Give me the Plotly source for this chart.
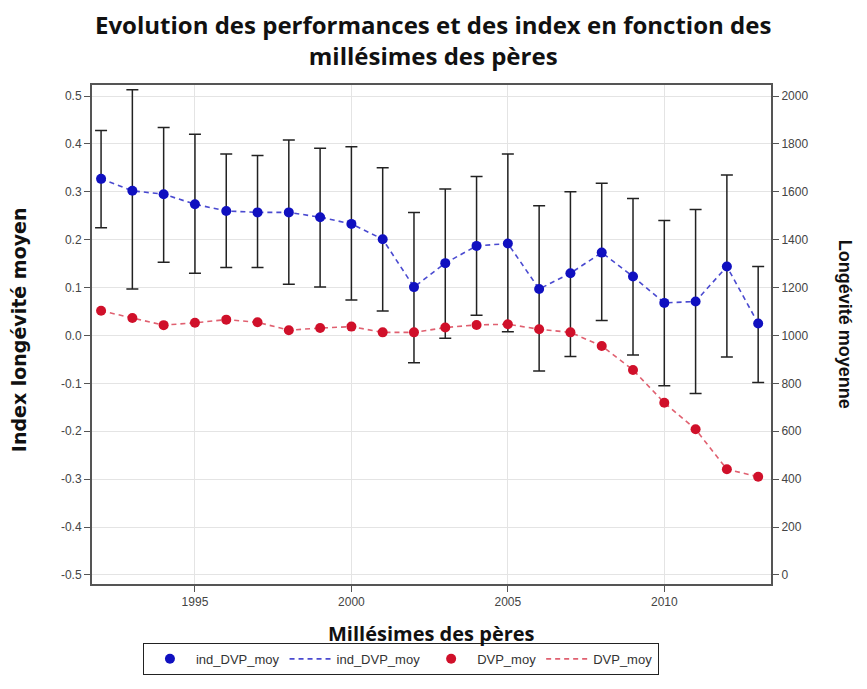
import plotly.graph_objects as go

years = list(range(1992, 2014))
ind_dvp_moy = [0.327, 0.302, 0.295, 0.274, 0.260, 0.257, 0.257, 0.247, 0.233, 0.201, 0.101,
               0.151, 0.187, 0.192, 0.097, 0.130, 0.173, 0.123, 0.068, 0.071, 0.144, 0.025]
ind_upper = [0.428, 0.513, 0.434, 0.420, 0.379, 0.376, 0.408, 0.391, 0.394, 0.350, 0.257,
             0.306, 0.332, 0.379, 0.271, 0.300, 0.318, 0.286, 0.240, 0.263, 0.335, 0.144]
ind_lower = [0.225, 0.097, 0.153, 0.130, 0.142, 0.142, 0.107, 0.101, 0.074, 0.051, -0.057,
             -0.006, 0.042, 0.008, -0.074, -0.044, 0.031, -0.041, -0.105, -0.121, -0.045, -0.098]
dvp_moy = [1103, 1073, 1043, 1053, 1066, 1055, 1022, 1031, 1037, 1013, 1013,
           1033, 1044, 1047, 1026, 1013, 956, 856, 719, 608, 441, 410]

left_ticks = [0.5, 0.4, 0.3, 0.2, 0.1, 0.0, -0.1, -0.2, -0.3, -0.4, -0.5]
left_labels = ["0.5", "0.4", "0.3", "0.2", "0.1", "0.0", "-0.1", "-0.2", "-0.3", "-0.4", "-0.5"]
right_ticks = [0, 200, 400, 600, 800, 1000, 1200, 1400, 1600, 1800, 2000]
x_ticks = [1995, 2000, 2005, 2010]

BLUE = "#1010c0"
RED = "#d0102a"
tickfont = dict(family="Liberation Sans, Arial, sans-serif", size=12, color="#444")
TITLE_FONT = "Open Sans, sans-serif"

err_plus = [u - v for u, v in zip(ind_upper, ind_dvp_moy)]
err_minus = [v - l for v, l in zip(ind_dvp_moy, ind_lower)]

fig = go.Figure()
fig.add_trace(go.Scatter(x=years, y=ind_dvp_moy, mode="lines", name="ind_DVP_moy",
                         line=dict(color="#4a4ad0", width=1.6, dash="5px,4px"), legendrank=2))
fig.add_trace(go.Scatter(x=years, y=dvp_moy, mode="lines", name="DVP_moy", yaxis="y2",
                         line=dict(color="#e06070", width=1.6, dash="5px,4px"), legendrank=4))
fig.add_trace(go.Scatter(x=years, y=ind_dvp_moy, mode="markers", name="ind_DVP_moy",
                         marker=dict(color=BLUE, size=10),
                         error_y=dict(type="data", array=err_plus, arrayminus=err_minus,
                                      color="#222", thickness=1.5, width=6),
                         legendrank=1))
fig.add_trace(go.Scatter(x=years, y=dvp_moy, mode="markers", name="DVP_moy", yaxis="y2",
                         marker=dict(color=RED, size=10), legendrank=3))

fig.update_layout(
    width=859, height=681,
    margin=dict(l=84, r=96, t=77, b=105),
    paper_bgcolor="white", plot_bgcolor="white",
    xaxis=dict(range=[1991.71, 2013.41], tickvals=x_ticks, ticks="outside", ticklen=6,
               tickcolor="#555", showline=True, linecolor="#555", linewidth=2, mirror=True,
               showgrid=True, gridcolor="#e4e4e4", gridwidth=1, tickfont=tickfont, zeroline=False),
    yaxis=dict(range=[-0.519, 0.523], tickvals=left_ticks, ticktext=left_labels, ticks="outside",
               ticklen=6, tickcolor="#555", showline=True, linecolor="#555", linewidth=2,
               showgrid=True, gridcolor="#e4e4e4", gridwidth=1, tickfont=tickfont, zeroline=False),
    yaxis2=dict(range=[-38, 2046], tickvals=right_ticks, overlaying="y", side="right",
                ticks="outside", ticklen=6, tickcolor="#555", showline=True, linecolor="#555",
                linewidth=2, showgrid=False, tickfont=tickfont, zeroline=False),
    showlegend=True,
    legend=dict(orientation="h", x=0.455, xanchor="center", y=-0.118, yanchor="top",
                bordercolor="#222", borderwidth=1, bgcolor="white",
                font=dict(family="Liberation Sans, Arial, sans-serif", size=13, color="#333"),
                traceorder="normal", itemwidth=42),
    annotations=[
        dict(text="<b>Evolution des performances et des index en fonction des<br>millésimes des pères</b>",
             xref="paper", yref="paper", x=0.502, y=1.158, xanchor="center", yanchor="top",
             showarrow=False, font=dict(family=TITLE_FONT, size=24, color="#111")),
        dict(text="<b>Index longévité moyen</b>", xref="paper", yref="paper", x=-0.108, y=0.51,
             xanchor="center", yanchor="middle", textangle=-90, showarrow=False,
             font=dict(family="DejaVu Sans, sans-serif", size=19, color="#111")),
        dict(text="<b>Longévité moyenne</b>", xref="paper", yref="paper", x=1.11, y=0.52,
             xanchor="center", yanchor="middle", textangle=90, showarrow=False,
             font=dict(family="Liberation Sans, Arial, sans-serif", size=18, color="#111")),
        dict(text="<b>Millésimes des pères</b>", xref="paper", yref="paper", x=0.5, y=-0.100,
             xanchor="center", yanchor="middle", showarrow=False,
             font=dict(family=TITLE_FONT, size=20, color="#111")),
    ],
)

fig.write_html("out.html")
